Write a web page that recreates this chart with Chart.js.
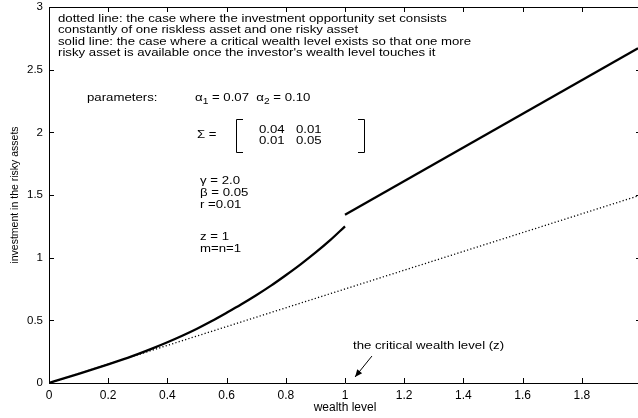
<!DOCTYPE html>
<html>
<head>
<meta charset="utf-8">
<script src="https://cdn.jsdelivr.net/npm/chart.js@4/dist/chart.umd.min.js"></script>
<style>
  html, body { margin: 0; padding: 0; overflow: hidden; background: #fff; }
  #c { display: block; }
</style>
</head>
<body>
<canvas id="c" width="645" height="418"></canvas>
<script>
// Wealth grid and optimal risky investment (solid: critical wealth level case)
const wealthBelow = [0, 0.05, 0.1, 0.15, 0.2, 0.25, 0.3, 0.35, 0.4, 0.45, 0.5,
                     0.55, 0.6, 0.65, 0.7, 0.75, 0.8, 0.85, 0.9, 0.95, 1.0];
const solidBelow  = [0, 0.037, 0.073, 0.11, 0.148, 0.188, 0.23, 0.276, 0.325, 0.377, 0.433,
                     0.494, 0.56, 0.628, 0.70, 0.777, 0.86, 0.947, 1.04, 1.14, 1.25];
const wealthAbove = [1.0, 1.99];
const solidAbove  = [1.342, 2.67];
// Single risky asset case (dotted)
const wealthSingle = [0, 1.99];
const dottedSingle = [0, 1.4925];

const xTicks = [0, 0.2, 0.4, 0.6, 0.8, 1, 1.2, 1.4, 1.6, 1.8, 2];
const yTicks = [0, 0.5, 1, 1.5, 2, 2.5, 3];

const FONT = '"Liberation Sans", Arial, Helvetica, sans-serif';
const SX = 1.2;          // horizontal stretch of annotation text
const TXT = '11px ' + FONT;
const SUB = '8.5px ' + FONT;

function pts(xs, ys) { return xs.map((x, i) => ({ x: x, y: ys[i] })); }

const solidStyle = { borderColor: '#000', borderWidth: 2.3, pointRadius: 0, showLine: true, fill: false };

const frame = {
  id: 'frame',
  afterDraw(chart) {
    const ctx = chart.ctx;
    const a = chart.chartArea;
    const xs = chart.scales.x, ys = chart.scales.y;
    ctx.save();
    ctx.strokeStyle = '#000';
    ctx.lineWidth = 1;
    ctx.beginPath();
    ctx.rect(Math.round(a.left) + 0.5, Math.round(a.top) + 0.5,
             Math.round(a.right - a.left), Math.round(a.bottom - a.top));
    ctx.stroke();
    // inward ticks on all four sides
    const tl = 5;
    ctx.beginPath();
    xTicks.forEach(v => {
      const px = Math.round(xs.getPixelForValue(v)) + 0.5;
      ctx.moveTo(px, a.bottom); ctx.lineTo(px, a.bottom - tl);
      ctx.moveTo(px, a.top); ctx.lineTo(px, a.top + tl);
    });
    yTicks.forEach(v => {
      const py = Math.round(ys.getPixelForValue(v)) + 0.5;
      ctx.moveTo(a.left, py); ctx.lineTo(a.left + tl, py);
      ctx.moveTo(a.right, py); ctx.lineTo(a.right - tl, py);
    });
    ctx.stroke();

    // annotation text
    ctx.fillStyle = '#000';
    ctx.textBaseline = 'middle';
    ctx.textAlign = 'left';

    function txt(t, x, y, font) {
      ctx.font = font || TXT;
      ctx.save();
      ctx.translate(x, y);
      ctx.scale(SX, 1);
      ctx.fillText(t, 0, 0);
      ctx.restore();
      return ctx.measureText(t).width * SX;
    }
    function run(x, y, parts) {
      parts.forEach(p => {
        x += p.sub ? txt(p.t, x, y + 4, SUB) : txt(p.t, x, y);
      });
    }

    const notes = [
      'dotted line: the case where the investment opportunity set consists',
      'constantly of one riskless asset and one risky asset',
      'solid line: the case where a critical wealth level exists so that one more',
      "risky asset is available once the investor's wealth level touches it"
    ];
    notes.forEach((t, i) => txt(t, 58, 19 + i * 11.3));

    txt('parameters:', 87, 98);
    run(195, 98, [{ t: 'α' }, { t: '1', sub: true }, { t: ' = 0.07  α' }, { t: '2', sub: true }, { t: ' = 0.10' }]);

    txt('Σ =', 197, 135);
    txt('0.04', 259, 130);
    txt('0.01', 296, 130);
    txt('0.01', 259, 141);
    txt('0.05', 296, 141);
    // matrix brackets
    ctx.beginPath();
    ctx.moveTo(243, 119.5); ctx.lineTo(236.5, 119.5); ctx.lineTo(236.5, 152.5); ctx.lineTo(243, 152.5);
    ctx.moveTo(358, 119.5); ctx.lineTo(364.5, 119.5); ctx.lineTo(364.5, 152.5); ctx.lineTo(358, 152.5);
    ctx.stroke();

    txt('γ = 2.0', 200, 181);
    txt('β = 0.05', 200, 193);
    txt('r =0.01', 200, 205);
    txt('z = 1', 200, 237);
    txt('m=n=1', 200, 249);

    txt('the critical wealth level (z)', 353, 346);

    // arrow to the critical wealth level on the axis
    const x0 = xs.getPixelForValue(1.091), y0 = ys.getPixelForValue(0.215);
    const x1 = xs.getPixelForValue(1.034), y1 = ys.getPixelForValue(0.048);
    ctx.beginPath();
    ctx.moveTo(x0, y0); ctx.lineTo(x1, y1);
    ctx.stroke();
    const ang = Math.atan2(y1 - y0, x1 - x0);
    const hl = 8, hw = 0.4;
    ctx.beginPath();
    ctx.moveTo(x1, y1);
    ctx.lineTo(x1 - hl * Math.cos(ang - hw), y1 - hl * Math.sin(ang - hw));
    ctx.lineTo(x1 - hl * Math.cos(ang + hw), y1 - hl * Math.sin(ang + hw));
    ctx.closePath();
    ctx.fill();
    ctx.restore();
  }
};

new Chart(document.getElementById('c'), {
  type: 'scatter',
  data: {
    datasets: [
      Object.assign({ data: pts(wealthBelow, solidBelow), cubicInterpolationMode: 'monotone' }, solidStyle),
      Object.assign({ data: pts(wealthAbove, solidAbove) }, solidStyle),
      { data: pts(wealthSingle, dottedSingle), borderColor: '#000', borderWidth: 1.3,
        borderDash: [1.2, 2.2], pointRadius: 0, showLine: true, fill: false }
    ]
  },
  options: {
    responsive: false,
    animation: false,
    devicePixelRatio: 1,
    layout: { padding: { top: 7, right: 4, left: 0, bottom: 0 } },
    plugins: { legend: { display: false }, tooltip: { enabled: false } },
    scales: {
      x: {
        type: 'linear', min: 0, max: 2,
        grid: { display: false, drawTicks: false },
        border: { display: false },
        afterBuildTicks(s) { s.ticks = xTicks.map(v => ({ value: v })); },
        afterFit(s) { s.height = 35; s.paddingLeft = 0; s.paddingRight = 0; },
        ticks: {
          color: '#000', padding: 5, maxRotation: 0, autoSkip: false,
          font: { family: FONT, size: 12 },
          callback: v => String(Math.round(v * 10) / 10)
        },
        title: {
          display: true, text: 'wealth level', color: '#000',
          font: { family: FONT, size: 12 }, padding: { top: 0, bottom: 3 }
        }
      },
      y: {
        type: 'linear', min: 0, max: 3,
        grid: { display: false, drawTicks: false },
        border: { display: false },
        afterBuildTicks(s) { s.ticks = yTicks.map(v => ({ value: v })); },
        afterFit(s) { s.width = 49; s.paddingTop = 0; s.paddingBottom = 0; },
        ticks: {
          color: '#000', padding: 6, autoSkip: false,
          font: { family: FONT, size: 11.5 },
          callback: v => String(v)
        },
        title: {
          display: true, text: 'investment in the risky assets', color: '#000',
          font: { family: FONT, size: 10.5 }, padding: { top: 9, bottom: 0 }
        }
      }
    }
  },
  plugins: [frame]
});
</script>
</body>
</html>
